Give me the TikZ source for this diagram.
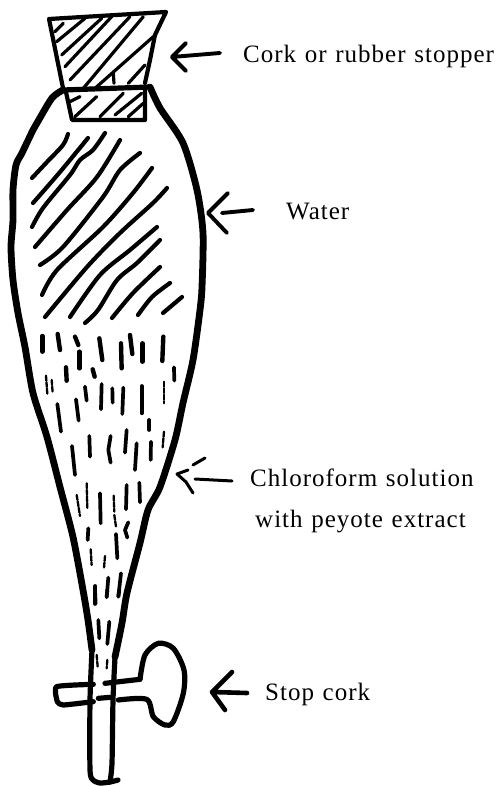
\documentclass[tikz,border=0pt]{standalone}
\usepackage{fontspec}
\setmainfont{Liberation Serif}[LetterSpace=4,WordSpace=1.2]
\tikzset{
  wall/.style={line width=6.8pt,line cap=round,line join=round},
  tube/.style={line width=5.2pt,line cap=round,line join=round},
  stopline/.style={line width=4.2pt,line cap=round,line join=round},
  hatchline/.style={line width=4.2pt,line cap=round,line join=round},
  hatchthin/.style={line width=3.2pt,line cap=round},
  dropthick/.style={line width=3.7pt,line cap=round,line join=round},
  dropthin/.style={line width=2.3pt,line cap=round,line join=round,dash pattern=on 5pt off 1.5pt},
  pointer/.style={line width=3.9pt,line cap=round,line join=round},
  label/.style={anchor=base west,inner sep=0pt,font=\fontsize{25}{25}\selectfont},
}
\newcommand{\drops}[2]{\foreach \a/\b/\c/\d in {#2}{\draw[#1] (\a,\b) -- (\c,\d);}}
\begin{document}
\begin{tikzpicture}[x=1pt,y=-1pt]
\useasboundingbox (0,0) rectangle (500,786);
\fill[white] (0,0) rectangle (500,786);
% flask outline
\draw[wall] plot[smooth,tension=.45] coordinates {(63,90) (52,98) (37,123) (33,130) (22,153) (16,165) (13,190) (13,220) (11,247) (13,280) (18,313) (25,347) (33,393) (47,437) (60,487) (73,537) (83,590) (88,620) (92,650)};
\draw[wall] plot[smooth,tension=.45] coordinates {(150,87) (160,108) (183,143) (197,190) (203,233) (202,287) (200,310) (193,360) (183,403) (175,440) (160,487) (148,510) (140,543) (127,593) (122,623) (115,657)};
\draw[tube] plot[smooth,tension=.4] coordinates {(92,650) (90,700) (90,770) (93,780) (100,783) (110,782) (118,780)};
\draw[tube] plot[smooth,tension=.4] coordinates {(115,657) (113,700) (112,763) (110,782)};
% stopper
\draw[stopline] (63,88) -- (49,19) -- (166,12) -- (155,35) -- (150,60) -- (145,83);
\draw[wall,line width=5.2pt] (63,90) -- (150,87);
\draw[stopline] (66,92) -- (72,120) -- (145,120) -- (145,90);
\begin{scope}[shift={(20,0)},x=.3333pt,y=-.3333pt]
\drops{hatchthin}{105/95/130/70,110/125/195/55,125/165/245/55,135/200/275/50,150/240/330/50,190/265/370/50,225/265/400/110,325/250/375/195,150/305/180/290,165/350/230/290,240/350/310/280,285/345/365/280,325/350/370/310,280/220/282/250}
\end{scope}
% water hatching
\draw[hatchline] plot[smooth] coordinates {(32,178) (47,162) (63,145) (68,134)};
\draw[hatchline] plot[smooth] coordinates {(33,203) (60,172) (88,138)};
\draw[hatchline] plot[smooth] coordinates {(32,227) (43,208) (70,175) (80,160) (93,150) (105,133)};
\draw[hatchline] plot[smooth] coordinates {(35,247) (67,210) (97,177) (120,140)};
\draw[hatchline] plot[smooth] coordinates {(40,265) (63,247) (103,197) (120,170) (140,153)};
\draw[hatchline] plot[smooth] coordinates {(42,295) (57,270) (103,227) (133,193) (152,168)};
\draw[hatchline] plot[smooth] coordinates {(45,317) (87,267) (120,233) (153,203) (167,188)};
\draw[hatchline] plot[smooth] coordinates {(70,317) (100,275) (130,250) (157,227)};
\draw[hatchline] plot[smooth] coordinates {(85,323) (98,310) (117,280) (137,263) (160,240)};
\draw[hatchline] plot[smooth] coordinates {(112,318) (133,293) (160,267)};
\draw[hatchline] plot[smooth] coordinates {(138,315) (152,297) (170,283)};
\draw[hatchline] plot[smooth] coordinates {(163,313) (182,297)};
% chloroform strokes
\begin{scope}[shift={(20,310)},x=.3333pt,y=-.3333pt]
\drops{dropthick,line width=4.4pt}{67/78/67/125,113/72/120/120,165/80/175/105,178/125/178/175,238/85/247/150,303/100/305/175,330/75/337/132,367/100/367/155,430/80/427/153,138/172/140/212,218/178/224/200}
\drops{dropthick}{462/172/463/212,195/230/200/272,245/222/243/298,277/235/278/278,310/233/307/312,365/228/365/310,112/282/123/365,168/268/176/332,388/330/388/360,208/378/210/440,320/360/315/428,350/400/345/480,393/395/392/450,156/408/165/495,240/550/242/640,320/525/318/598,358/518/360/577,205/655/203/690,288/672/292/745,226/828/226/882,265/803/260/862,303/790/295/860}
\drops{dropthin}{78/197/82/252,95/210/98/248,432/215/432/280,432/365/428/412,200/520/202/595,170/555/180/618,281/557/283/605,283/615/288/650,212/718/215/765,255/738/252/775}
\draw[dropthick] (272,378) -- (265,420) -- (272,458);
\draw[dropthick] (325,637) -- (315,660) -- (322,683);
\end{scope}
\begin{scope}[shift={(30,590)},x=.3333pt,y=-.3333pt]
\drops{dropthick}{195/0/197/40,232/0/230/20,268/0/265/20,205/90/208/145,238/95/232/162}
\drops{dropthin}{200/195/203/230,232/210/230/235}
\end{scope}
% stop cork
\begin{scope}[shift={(30,590)},x=.3333pt,y=-.3333pt]
\draw[tube] (225,280) -- (330,268);
\draw[tube] plot[smooth,tension=.3] coordinates {(190,283) (80,290) (82,335) (100,345) (190,335)};
\draw[tube] (205,325) -- (240,322);
\draw[tube] plot[smooth,tension=.5] coordinates {(265,330) (350,328) (370,380) (405,405) (430,395) (460,310) (462,240) (430,175) (385,160) (345,195) (330,268)};
\end{scope}
% labels
\node[label] (cork) at (243,63) {Cork or rubber stopper};
\node[label] (water) at (286,219) {Water};
\node[label] (chloro) at (250,486) {Chloroform solution};
\node[label] (peyote) at (255,527) {with peyote extract};
\node[label] (stop) at (265,700) {Stop cork};
% pointers
\coordinate (t1) at (220,53); \coordinate (p1) at (172,57);
\draw[pointer] (t1) -- (p1) (186,43) -- (p1) -- (186,71);
\coordinate (t2) at (253,210); \coordinate (s2) at (222,213); \coordinate (p2) at (208,213);
\draw[pointer] (t2) -- (s2) (228,193) -- (p2) -- (227,233);
\coordinate (t3) at (232,481); \coordinate (s3) at (195,479); \coordinate (p3) at (177,474);
\draw[pointer,line width=3pt] (t3) -- (s3) (188,470) -- (p3) -- (186,482) -- (193,493) (193,465) -- (205,458);
\coordinate (t4) at (247,693); \coordinate (p4) at (212,692);
\draw[pointer,line width=4.6pt] (t4) -- (p4) (232,672) -- (p4) -- (225,710);
\end{tikzpicture}
\end{document}
